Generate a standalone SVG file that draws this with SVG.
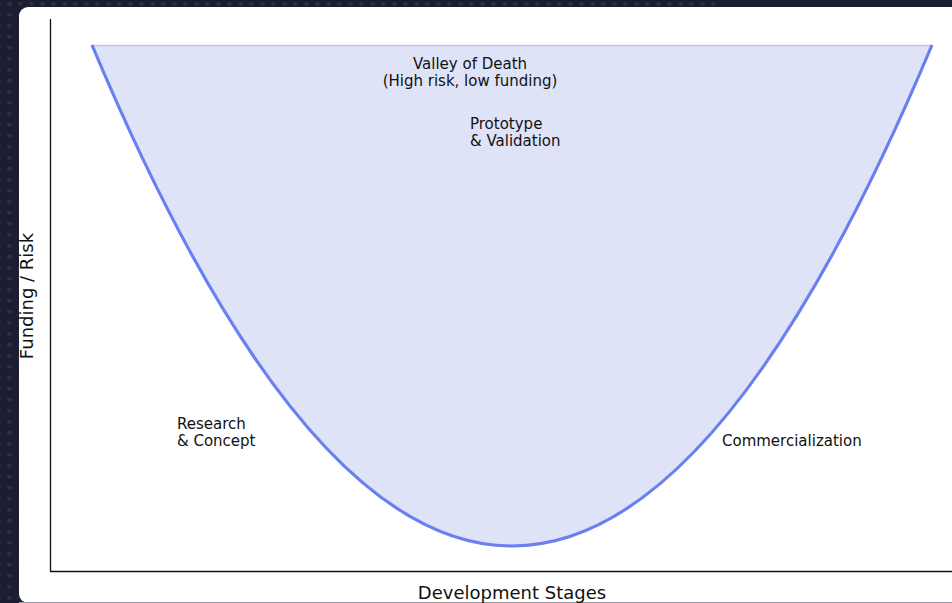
<svg xmlns="http://www.w3.org/2000/svg" width="952" height="603" viewBox="0 0 952 603">
<defs>
<pattern id="dots" x="4" y="2" width="11" height="11" patternUnits="userSpaceOnUse">
<circle cx="5.5" cy="1.5" r="2.2" fill="#2b3047"/>
</pattern>
<style>
.t{font-family:"DejaVu Sans",sans-serif;font-size:15px;fill:#111}
.ax{font-family:"DejaVu Sans",sans-serif;font-size:18px;fill:#111}
</style>
</defs>
<rect x="0" y="0" width="952" height="603" fill="#1b1e31"/>
<rect x="0" y="0" width="19" height="603" fill="url(#dots)"/>
<rect x="0" y="0" width="720" height="7" fill="url(#dots)"/>
<rect x="19" y="7" width="945" height="596" rx="9" fill="#ffffff"/>
<line x1="19" y1="602.5" x2="952" y2="602.5" stroke="#9a9aa4" stroke-width="1"/>
<g id="valley">
<path d="M92,45 Q512,1047 932,45 Z" fill="#dfe3f8"/>
<line x1="92" y1="45.5" x2="932" y2="45.5" stroke="#c4c6d2" stroke-width="1.5"/>
<path d="M92,45 Q512,1047 932,45" fill="none" stroke="#6a7ff0" stroke-width="3.2"/>
</g>
<g id="axes" stroke="#111" stroke-width="1.3">
<line x1="50.5" y1="19" x2="50.5" y2="571.5"/>
<line x1="50" y1="571.5" x2="952" y2="571.5"/>
</g>
<g id="label-valley"><text class="t" x="470" y="69" text-anchor="middle">Valley of Death</text>
<text class="t" x="470" y="86" text-anchor="middle">(High risk, low funding)</text></g>
<g id="label-prototype"><text class="t" x="470" y="129">Prototype</text>
<text class="t" x="470" y="146">&amp; Validation</text></g>
<g id="label-research"><text class="t" x="177" y="429">Research</text>
<text class="t" x="177" y="446">&amp; Concept</text></g>
<g id="label-commercial"><text class="t" x="722" y="446">Commercialization</text></g>
<text class="ax" x="512" y="599" text-anchor="middle">Development Stages</text>
<text class="ax" transform="translate(33,296) rotate(-90)" text-anchor="middle">Funding / Risk</text>
</svg>
